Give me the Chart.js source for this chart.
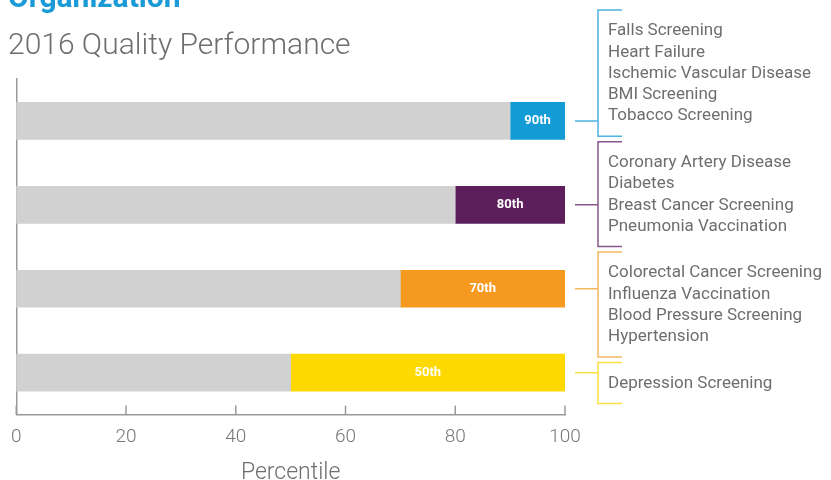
<!DOCTYPE html>
<html>
<head>
<meta charset="utf-8">
<script src="https://cdn.jsdelivr.net/npm/chart.js@4"></script>
<style>
  html, body { margin: 0; padding: 0; background: #fff; }
</style>
</head>
<body>
<canvas id="qualityChart" width="831" height="480"></canvas>
<script>
// data
const tierLabels = ['90th', '80th', '70th', '50th'];
const scores = [90, 80, 70, 50];
const xTicks = [0, 20, 40, 60, 80, 100];
const measures = [
    ['Falls Screening', 'Heart Failure', 'Ischemic Vascular Disease', 'BMI Screening', 'Tobacco Screening'],
    ['Coronary Artery Disease', 'Diabetes', 'Breast Cancer Screening', 'Pneumonia Vaccination'],
    ['Colorectal Cancer Screening', 'Influenza Vaccination', 'Blood Pressure Screening', 'Hypertension'],
    ['Depression Screening']
];

const tierColors = ['#129bd5', '#5c1f5b', '#f5991f', '#fed900'];
const bracketColors = ['#4db3e0', '#86578a', '#f6b661', '#fddf45'];
const grey = '#d1d1d1';
const textGrey = '#6e6e6e';
const FONT = 'Roboto, "Open Sans", sans-serif';

const overlayPlugin = {
    id: 'overlay',
    afterDraw(chart) {
        const ctx = chart.ctx;
        const xs = chart.scales.x;
        const ys = chart.scales.y;
        const area = chart.chartArea;
        ctx.save();

        // headings
        ctx.textAlign = 'left';
        ctx.textBaseline = 'alphabetic';
        ctx.fillStyle = '#1a9ad6';
        ctx.font = 'bold 30px ' + FONT;
        ctx.fillText('Organization', 8, 7);
        ctx.fillStyle = textGrey;
        ctx.font = '300 30px ' + FONT;
        ctx.fillText('2016 Quality Performance', 8, 54);

        // tick marks pointing up from the axis
        ctx.strokeStyle = '#9a9a9a';
        ctx.lineWidth = 1.5;
        xTicks.forEach(v => {
            const x = xs.getPixelForValue(v);
            ctx.beginPath();
            ctx.moveTo(x, area.bottom);
            ctx.lineTo(x, area.bottom - 9);
            ctx.stroke();
        });

        // percentile labels inside the coloured part
        ctx.fillStyle = '#fff';
        ctx.font = 'bold 13px ' + FONT;
        ctx.textAlign = 'center';
        ctx.textBaseline = 'middle';
        scores.forEach((s, i) => {
            const x = (xs.getPixelForValue(s) + xs.getPixelForValue(100)) / 2;
            ctx.fillText(tierLabels[i], x, ys.getPixelForValue(i));
        });

        // brackets with measure lists
        const bx = xs.getPixelForValue(100) + 33;
        const lineH = 21.3, pad = 20.5, gap = 5.5;
        let top = 10;
        ctx.textAlign = 'left';
        ctx.font = '17px ' + FONT;
        measures.forEach((list, i) => {
            const bottom = top + pad * 2 + (list.length - 1) * lineH;
            const cy = ys.getPixelForValue(i);
            ctx.strokeStyle = bracketColors[i];
            ctx.lineWidth = 1.5;
            ctx.beginPath();
            ctx.moveTo(bx + 24, top);
            ctx.lineTo(bx, top);
            ctx.lineTo(bx, bottom);
            ctx.lineTo(bx + 24, bottom);
            ctx.moveTo(xs.getPixelForValue(100) + 10, cy);
            ctx.lineTo(bx, cy);
            ctx.stroke();
            ctx.fillStyle = textGrey;
            list.forEach((m, k) => {
                ctx.fillText(m, bx + 10, top + pad + 0.5 + k * lineH);
            });
            top = bottom + gap;
        });
        ctx.restore();
    }
};

new Chart(document.getElementById('qualityChart'), {
    type: 'bar',
    data: {
        labels: tierLabels,
        datasets: [
            {
                data: scores.map(s => [0, s]),
                backgroundColor: grey,
                grouped: false,
                barThickness: 37
            },
            {
                data: scores.map(s => [s, 100]),
                backgroundColor: tierColors,
                grouped: false,
                barThickness: 37
            }
        ]
    },
    options: {
        indexAxis: 'y',
        responsive: false,
        animation: false,
        layout: { padding: { left: 11, right: 266, top: 79, bottom: -7 } },
        plugins: {
            legend: { display: false },
            tooltip: { enabled: false }
        },
        scales: {
            x: {
                min: 0,
                max: 100,
                afterBuildTicks: axis => { axis.ticks = xTicks.map(v => ({ value: v })); },
                grid: { display: false, drawTicks: false },
                border: { display: true, color: '#9a9a9a', width: 1.5 },
                ticks: {
                    color: '#777',
                    font: { family: FONT, size: 19, weight: '300' },
                    padding: 11
                },
                title: {
                    display: true,
                    text: 'Percentile',
                    color: textGrey,
                    font: { family: FONT, size: 23, weight: '300' },
                    padding: { top: 0, bottom: 0 }
                }
            },
            y: {
                grid: { display: false, drawTicks: false },
                border: { display: true, color: '#9a9a9a', width: 1.5 },
                ticks: { display: false }
            }
        }
    },
    plugins: [overlayPlugin]
});
</script>
</body>
</html>
